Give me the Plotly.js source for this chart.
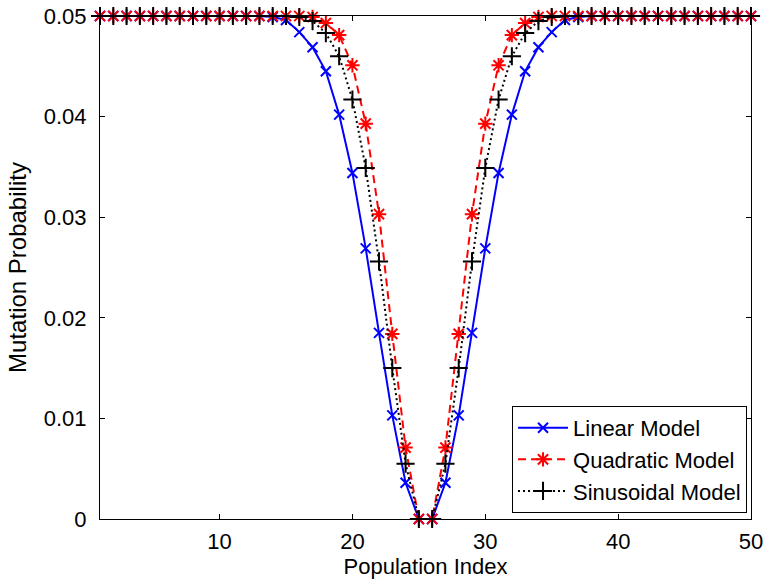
<!DOCTYPE html>
<html>
<head>
<meta charset="utf-8">
<script src="https://cdn.plot.ly/plotly-3.0.1.min.js"></script>
<style>body{margin:0;padding:0;background:#fff;} #chart{width:769px;height:584px;}</style>
</head>
<body>
<div id="chart"></div>
<script>
const populationIndex = [1,2,3,4,5,6,7,8,9,10,11,12,13,14,15,16,17,18,19,20,21,22,23,24,25,26,27,28,29,30,31,32,33,34,35,36,37,38,39,40,41,42,43,44,45,46,47,48,49,50];

const linearModel = [0.05,0.05,0.05,0.05,0.05,0.05,0.05,0.05,0.05,0.05,0.05,0.05,0.05,0.0499,0.0496,0.0484,0.0469,0.0445,0.0402,0.0344,0.0269,0.0185,0.0103,0.0036,0,
                     0,0.0036,0.0103,0.0185,0.0269,0.0344,0.0402,0.0445,0.0469,0.0484,0.0496,0.0499,0.05,0.05,0.05,0.05,0.05,0.05,0.05,0.05,0.05,0.05,0.05,0.05,0.05];

const quadraticModel = [0.05,0.05,0.05,0.05,0.05,0.05,0.05,0.05,0.05,0.05,0.05,0.05,0.05,0.05,0.05,0.05,0.0499,0.0493,0.0481,0.0451,0.0393,0.0303,0.0184,0.0071,0,
                        0,0.0071,0.0184,0.0303,0.0393,0.0451,0.0481,0.0493,0.0499,0.05,0.05,0.05,0.05,0.05,0.05,0.05,0.05,0.05,0.05,0.05,0.05,0.05,0.05,0.05,0.05];

const sinusoidalModel = [0.05,0.05,0.05,0.05,0.05,0.05,0.05,0.05,0.05,0.05,0.05,0.05,0.05,0.05,0.05,0.0499,0.0495,0.0483,0.0460,0.0417,0.0349,0.0256,0.0150,0.0055,0,
                         0,0.0055,0.0150,0.0256,0.0349,0.0417,0.0460,0.0483,0.0495,0.0499,0.05,0.05,0.05,0.05,0.05,0.05,0.05,0.05,0.05,0.05,0.05,0.05,0.05,0.05,0.05];

const seriesNames = ['Linear Model','Quadratic Model','Sinusoidal Model'];
const xTicks = [10,20,30,40,50];
const yTicks = [0,0.01,0.02,0.03,0.04,0.05];
const yTickLabels = ['0','0.01','0.02','0.03','0.04','0.05'];

const font = 'Liberation Sans, Arial, sans-serif';

const traces = [
  {x: populationIndex, y: linearModel, name: seriesNames[0], type: 'scatter', mode: 'lines+markers', cliponaxis: false,
   line: {color: '#0000ff', width: 2, dash: 'solid'},
   marker: {symbol: 'x-thin-open', size: 10, color: '#0000ff', line: {color: '#0000ff', width: 2}}},
  {x: populationIndex, y: quadraticModel, name: seriesNames[1], type: 'scatter', mode: 'lines+markers', cliponaxis: false,
   line: {color: '#ff0000', width: 2, dash: '8px,5px'},
   marker: {symbol: 'asterisk-open', size: 12, color: '#ff0000', line: {color: '#ff0000', width: 2}}},
  {x: populationIndex, y: sinusoidalModel, name: seriesNames[2], type: 'scatter', mode: 'lines+markers', cliponaxis: false,
   line: {color: '#000000', width: 2, dash: '2px,3px'},
   marker: {symbol: 'cross-thin-open', size: 13, color: '#000000', line: {color: '#000000', width: 2}}}
];

const layout = {
  width: 769, height: 584,
  margin: {l: 100, r: 18, t: 16, b: 65},
  paper_bgcolor: '#ffffff', plot_bgcolor: '#ffffff',
  font: {family: font, size: 22, color: '#000'},
  showlegend: true,
  xaxis: {
    range: [1, 50], tickvals: xTicks, ticktext: xTicks.map(String),
    ticks: 'inside', ticklen: 5, tickcolor: '#000', tickwidth: 1,
    showline: true, linecolor: '#000', linewidth: 1, mirror: 'ticks',
    showgrid: false, zeroline: false, ticklabelstandoff: 3,
    tickfont: {family: font, size: 22},
    title: {text: 'Population Index', font: {family: font, size: 22}, standoff: 2}
  },
  yaxis: {
    range: [0, 0.05], tickvals: yTicks, ticktext: yTickLabels,
    ticks: 'inside', ticklen: 5, tickcolor: '#000', tickwidth: 1,
    showline: true, linecolor: '#000', linewidth: 1, mirror: 'ticks',
    showgrid: false, zeroline: false, ticklabelstandoff: 8,
    tickfont: {family: font, size: 22},
    title: {text: 'Mutation Probability', font: {family: font, size: 24}, standoff: 10}
  },
  legend: {
    x: 0.9939, y: 0.012, xanchor: 'right', yanchor: 'bottom',
    bgcolor: '#ffffff', bordercolor: '#000', borderwidth: 1,
    font: {family: font, size: 22}, tracegroupgap: 0, itemwidth: 50
  }
};

Plotly.newPlot('chart', traces, layout, {displayModeBar: false, staticPlot: true});
</script>
</body>
</html>
